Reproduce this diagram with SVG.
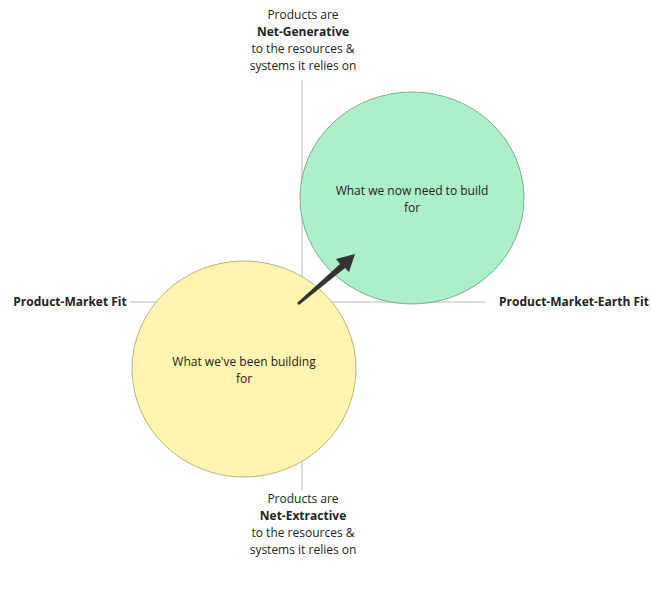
<svg xmlns="http://www.w3.org/2000/svg" width="651" height="604" viewBox="0 0 651 604">
<style>
text{font-family:"Open Sans","Noto Sans",sans-serif;font-size:12px;fill:#222;text-anchor:middle}
.b{font-weight:bold}
.ax{stroke:#dcdcdc;stroke-width:2;fill:none}
</style>
<rect width="651" height="604" fill="#fff"/>
<g id="axes">
<line class="ax" x1="302" y1="80" x2="302" y2="490"/>
<line class="ax" x1="130" y1="302" x2="485" y2="302"/>
</g>
<g id="green"><ellipse cx="412" cy="198" rx="112" ry="106" fill="#adefc8" stroke="#6a9a7c" stroke-width="0.8"/>
<text x="412" y="195">What we now need to build</text><text x="412" y="212" text-anchor="start" style="text-anchor:middle">for</text></g>
<g id="yellow"><ellipse cx="244" cy="369" rx="112" ry="108" fill="#fff5b0" stroke="#a8a070" stroke-width="0.8"/>
<text x="244" y="366">What we've been building</text><text x="244" y="383">for</text></g>
<g id="connectors"><path d="M297,303 L340,264 L336,259 L355,254 L349,272 L345,268 L299,305 Z" fill="#333"/></g>
<g id="top"><text x="303" y="19">Products are</text><text class="b" x="303" y="36">Net-Generative</text><text x="303" y="53">to the resources &amp;</text><text x="303" y="70">systems it relies on</text></g>
<g id="bottom"><text x="303" y="503">Products are</text><text class="b" x="303" y="520">Net-Extractive</text><text x="303" y="537">to the resources &amp;</text><text x="303" y="554">systems it relies on</text></g>
<g id="left"><text class="b" x="70" y="306">Product-Market Fit</text></g>
<g id="right"><text class="b" x="574" y="306">Product-Market-Earth Fit</text></g>
</svg>
